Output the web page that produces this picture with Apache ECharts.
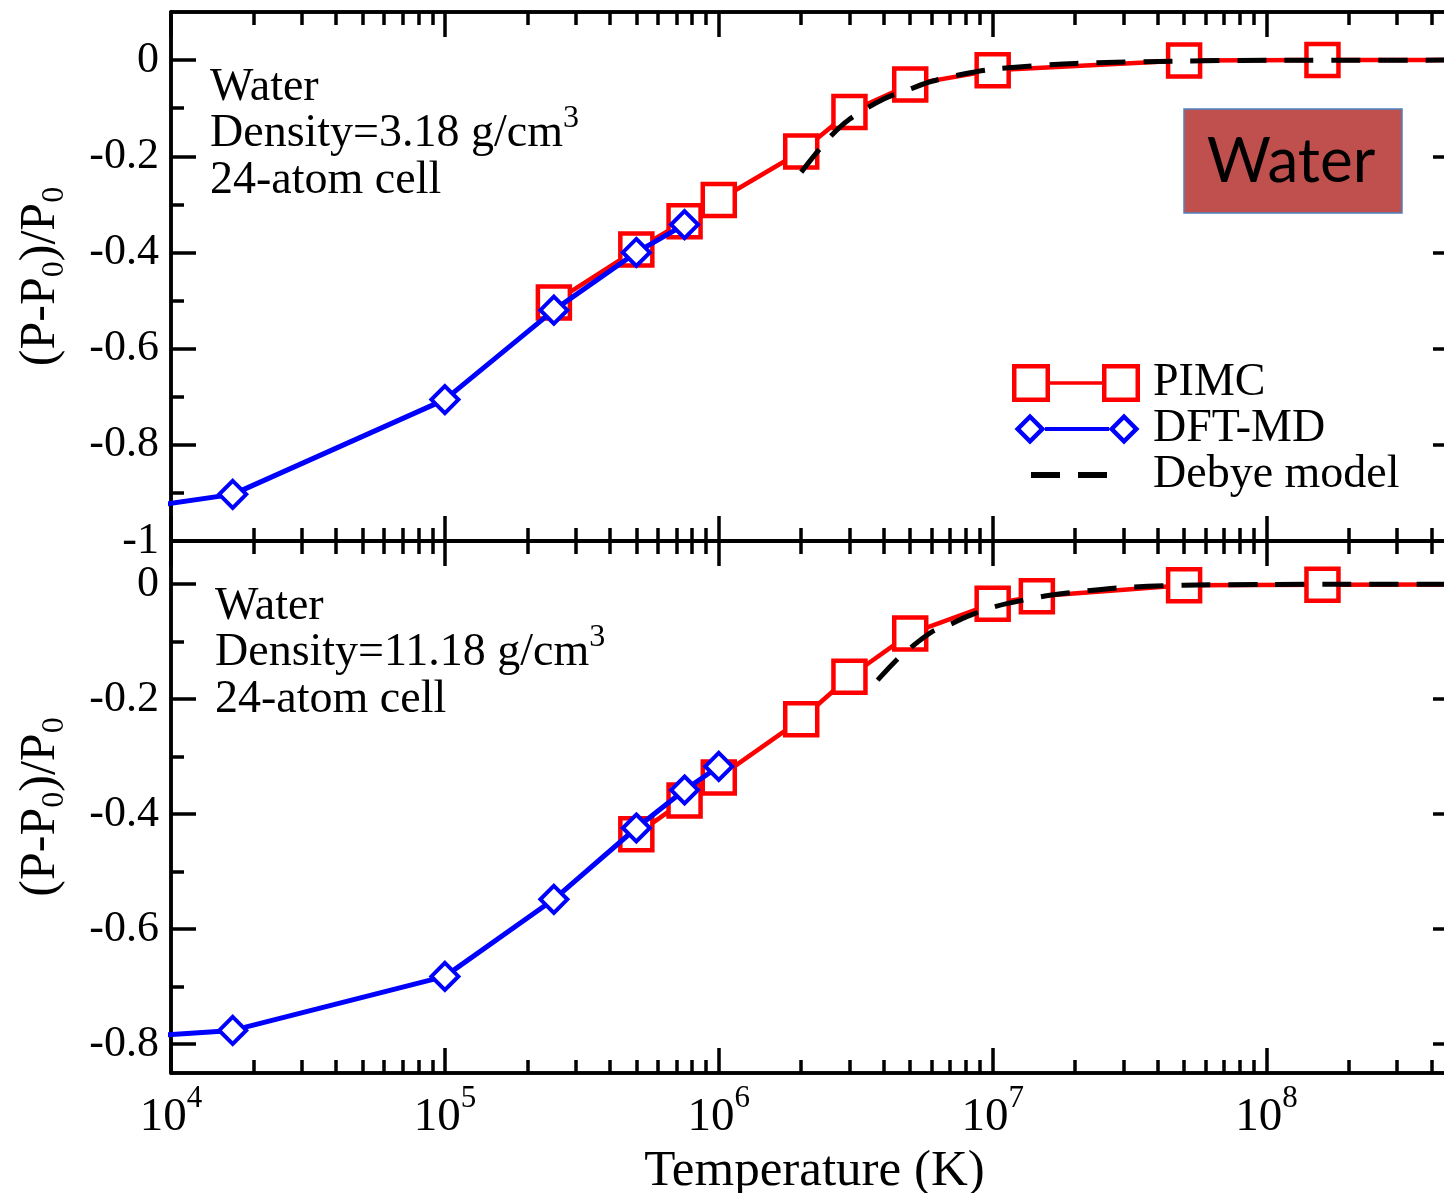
<!DOCTYPE html>
<html><head><meta charset="utf-8">
<script src="https://cdn.jsdelivr.net/npm/echarts@6/dist/echarts.min.js"></script>
<style>html,body{margin:0;padding:0;background:#fff}#c{width:1444px;height:1193px}</style>
</head><body><div id="c"></div>
<script>
// ---------- data ----------
// Top panel: density 3.18 g/cm3
const pimcT_top = [2.5e5, 5e5, 7.5e5, 1e6, 2e6, 3e6, 5e6, 1e7, 5e7, 1.6e8, 1e9];
const pimcP_top = [-0.504, -0.394, -0.335, -0.291, -0.19, -0.108, -0.051, -0.021, -0.001, 0, 0];
const dftT_top = [6e3, 1.68e4, 1e5, 2.5e5, 5e5, 7.5e5];
const dftP_top = [-0.94, -0.903, -0.706, -0.52, -0.40, -0.342];
const debyeT_top = [2e6, 2.5e6, 3e6, 4e6, 5e6, 6e6, 8e6, 1e7, 2e7, 5e7, 1e8, 1e9];
const debyeP_top = [-0.233, -0.165, -0.123, -0.081, -0.06, -0.044, -0.028, -0.019, -0.007, -0.002, -0.0005, 0];
// Bottom panel: density 11.18 g/cm3
const pimcT_bot = [5e5, 7.5e5, 1e6, 2e6, 3e6, 5e6, 1e7, 1.45e7, 5e7, 1.6e8, 1e9];
const pimcP_bot = [-0.435, -0.376, -0.336, -0.235, -0.161, -0.086, -0.034, -0.021, -0.002, -0.001, 0];
const dftT_bot = [6e3, 1.68e4, 1e5, 2.5e5, 5e5, 7.5e5, 1e6];
const dftP_bot = [-0.79, -0.776, -0.682, -0.548, -0.424, -0.358, -0.317];
const debyeT_bot = [3.8e6, 4.5e6, 5e6, 6e6, 7e6, 8e6, 1e7, 1.5e7, 2e7, 3e7, 5e7, 1e8, 1e9];
const debyeP_bot = [-0.167, -0.130, -0.111, -0.083, -0.070, -0.057, -0.040, -0.022, -0.014, -0.006, -0.002, -0.0005, 0];

// ---------- axes / ticks ----------
const T_MIN = 1e4, T_MAX = 5e8;
const xMajorTicks = [1e4, 1e5, 1e6, 1e7, 1e8];
const xMinorTicks = [2e4,3e4,4e4,5e4,6e4,7e4,8e4,9e4,
  2e5,3e5,4e5,5e5,6e5,7e5,8e5,9e5,
  2e6,3e6,4e6,5e6,6e6,7e6,8e6,9e6,
  2e7,3e7,4e7,5e7,6e7,7e7,8e7,9e7,
  2e8,3e8,4e8];
const yRangeTop = [-1, 0.1];
const yMajorTop = [0, -0.2, -0.4, -0.6, -0.8, -1];
const yMinorTop = [-0.1, -0.3, -0.5, -0.7, -0.9];
const yRangeBot = [-0.85, 0.075];
const yMajorBot = [0, -0.2, -0.4, -0.6, -0.8];
const yMinorBot = [-0.1, -0.3, -0.5, -0.7];
const seriesNames = ['PIMC', 'DFT-MD', 'Debye model'];
const xName = 'Temperature (K)';
const yNameRich = '(P-P{s|0})/P{s|0}';
const notesTop = ['Water', '{m|Density=3.18 g/cm}{s|3}', '24-atom cell'];
const notesBot = ['Water', '{m|Density=11.18 g/cm}{s|3}', '24-atom cell'];
const boxLabel = 'Water';

const zip = (a, b) => a.map((v, i) => [v, b[i]]);
const SERIF = 'Liberation Serif';
const LW = 3.5;

function xAxes(gridIndex, withLabels) {
  const mk = (position, ticks, len, labels, name) => {
    const ax = {
      type: 'log', logBase: 10, min: T_MIN, max: T_MAX, gridIndex, position,
      splitLine: {show: false},
      axisLine: {show: true, onZero: false, lineStyle: {color: '#000', width: LW}},
      axisTick: {show: true, inside: true, length: len, customValues: ticks, lineStyle: {color: '#000', width: LW}},
      axisLabel: {show: false}
    };
    if (labels) {
      ax.axisLabel = {
        show: true, customValues: ticks, margin: 10, color: '#000',
        fontFamily: SERIF, fontSize: 47,
        formatter: v => '{m|10}{e|' + Math.round(Math.log10(v)) + '}',
        rich: {
          m: {fontFamily: SERIF, fontSize: 47, color: '#000', lineHeight: 58, verticalAlign: 'bottom'},
          e: {fontFamily: SERIF, fontSize: 31, color: '#000', lineHeight: 31, verticalAlign: 'top'}
        }
      };
    }
    if (name) {
      ax.name = name; ax.nameLocation = 'middle'; ax.nameGap = 73;
      ax.nameTextStyle = {fontFamily: SERIF, fontSize: 51, color: '#000'};
    }
    return ax;
  };
  return [
    mk('bottom', xMajorTicks, 25, withLabels, withLabels ? xName : null),
    mk('bottom', xMinorTicks, 13, false, null),
    mk('top', xMajorTicks, 25, false, null),
    mk('top', xMinorTicks, 13, false, null)
  ];
}

function yAxes(gridIndex, range, major, minor) {
  const mk = (position, ticks, len, labels) => {
    const ax = {
      type: 'value', min: range[0], max: range[1], gridIndex, position,
      splitLine: {show: false},
      axisLine: {show: true, onZero: false, lineStyle: {color: '#000', width: LW}},
      axisTick: {show: true, inside: true, length: len, customValues: ticks, lineStyle: {color: '#000', width: LW}},
      axisLabel: {show: false}
    };
    if (labels) {
      ax.axisLabel = {show: true, customValues: ticks, margin: 12, color: '#000',
        fontFamily: SERIF, fontSize: 44, formatter: v => String(v)};
      ax.name = yNameRich; ax.nameLocation = 'middle'; ax.nameRotate = 90; ax.nameGap = 100;
      ax.nameTextStyle = {fontFamily: SERIF, fontSize: 50, color: '#000', lineHeight: 60,
        rich: {s: {fontFamily: SERIF, fontSize: 32, color: '#000', verticalAlign: 'bottom', lineHeight: 32}}};
    }
    return ax;
  };
  return [
    mk('left', major, 25, true),
    mk('left', minor, 13, false),
    mk('right', major, 25, false),
    mk('right', minor, 13, false)
  ];
}

function panelSeries(xi, yi, pT, pP, dT, dP, bT, bP) {
  return [
    {name: seriesNames[0], type: 'line', xAxisIndex: xi, yAxisIndex: yi, data: zip(pT, pP),
      symbol: 'rect', symbolSize: 32, showAllSymbol: true, clip: true,
      itemStyle: {color: '#fff', borderColor: '#ff0000', borderWidth: 4.5},
      lineStyle: {color: '#ff0000', width: 4.5}, z: 2},
    {name: seriesNames[1], type: 'line', xAxisIndex: xi, yAxisIndex: yi, data: zip(dT, dP),
      symbol: 'diamond', symbolSize: 27, showAllSymbol: true, clip: true,
      itemStyle: {color: '#fff', borderColor: '#0000ff', borderWidth: 4},
      lineStyle: {color: '#0000ff', width: 5}, z: 3},
    {name: seriesNames[2], type: 'line', xAxisIndex: xi, yAxisIndex: yi, data: zip(bT, bP),
      symbol: 'none', smooth: 0.3, clip: true,
      lineStyle: {color: '#000', width: 5, type: [29, 18], cap: 'butt'}, z: 4}
  ];
}

// legend icons (in a 128 x 38 box)
const iconPIMC = 'path://M0 0L38 0L38 38L0 38Z M4.5 4.5L4.5 33.5L33.5 33.5L33.5 4.5Z M38 17.2L90 17.2L90 20.8L38 20.8Z M90 0L128 0L128 38L90 38Z M94.5 4.5L94.5 33.5L123.5 33.5L123.5 4.5Z';
const iconDFT = 'path://M0 0Z M128 38Z M18 3.5L33.5 19L18 34.5L2.5 19Z M18 9.8L8.8 19L18 28.2L27.2 19Z M33 17L97 17L97 21L33 21Z M112 3.5L127.5 19L112 34.5L96.5 19Z M112 9.8L102.8 19L112 28.2L121.2 19Z';
const iconDebye = 'path://M0 0Z M128 38Z M19 16L48 16L48 22L19 22Z M66 16L95 16L95 22L66 22Z';

function noteLines(lines, x, ys) {
  const rich = {
    m: {fontFamily: SERIF, fontSize: 46, fill: '#000', lineHeight: 54, verticalAlign: 'bottom'},
    s: {fontFamily: SERIF, fontSize: 32, fill: '#000', lineHeight: 32, verticalAlign: 'top'}
  };
  return lines.map((t, i) => ({
    type: 'text', x, y: ys[i], z: 10,
    style: {text: t, fontFamily: SERIF, fontSize: 46, lineHeight: 47, fill: '#000', verticalAlign: 'top', rich}
  }));
}

const option = {
  animation: false,
  backgroundColor: '#fff',
  grid: [
    {left: 171, width: 1287, top: 12, height: 529, containLabel: false, outerBoundsMode: 'none'},
    {left: 171, width: 1287, top: 541, height: 532, containLabel: false, outerBoundsMode: 'none'}
  ],
  xAxis: [...xAxes(0, false), ...xAxes(1, true)],
  yAxis: [...yAxes(0, yRangeTop, yMajorTop, yMinorTop), ...yAxes(1, yRangeBot, yMajorBot, yMinorBot)],
  legend: {
    orient: 'vertical', left: 1012, top: 360, padding: 0, itemWidth: 128, itemHeight: 38, itemGap: 0,
    selectedMode: false, symbolKeepAspect: true,
    textStyle: {fontFamily: SERIF, fontSize: 46, color: '#000', lineHeight: 42, padding: [0, 0, 0, 8]},
    data: [
      {name: seriesNames[0], icon: iconPIMC, itemStyle: {color: '#ff0000', borderWidth: 0}},
      {name: seriesNames[1], icon: iconDFT, itemStyle: {color: '#0000ff', borderWidth: 0}},
      {name: seriesNames[2], icon: iconDebye, itemStyle: {color: '#000000', borderWidth: 0}}
    ]
  },
  graphic: [
    ...noteLines(notesTop, 210, [64, 103, 157]),
    ...noteLines(notesBot, 215, [583, 622, 676]),
    {type: 'rect', z: 10, shape: {x: 1184, y: 109, width: 218, height: 104},
      style: {fill: '#C0504D', stroke: '#4F81BD', lineWidth: 1.5}},
    {type: 'text', z: 11, x: 1291, y: 162, style: {
      text: boxLabel, fontFamily: 'Lato', fontSize: 62, fill: '#000', align: 'center', verticalAlign: 'middle'}}
  ],
  series: [
    ...panelSeries(0, 0, pimcT_top, pimcP_top, dftT_top, dftP_top, debyeT_top, debyeP_top),
    ...panelSeries(4, 4, pimcT_bot, pimcP_bot, dftT_bot, dftP_bot, debyeT_bot, debyeP_bot)
  ]
};

const chart = echarts.init(document.getElementById('c'), null, {renderer: 'canvas'});
chart.setOption(option);
</script>
</body></html>
